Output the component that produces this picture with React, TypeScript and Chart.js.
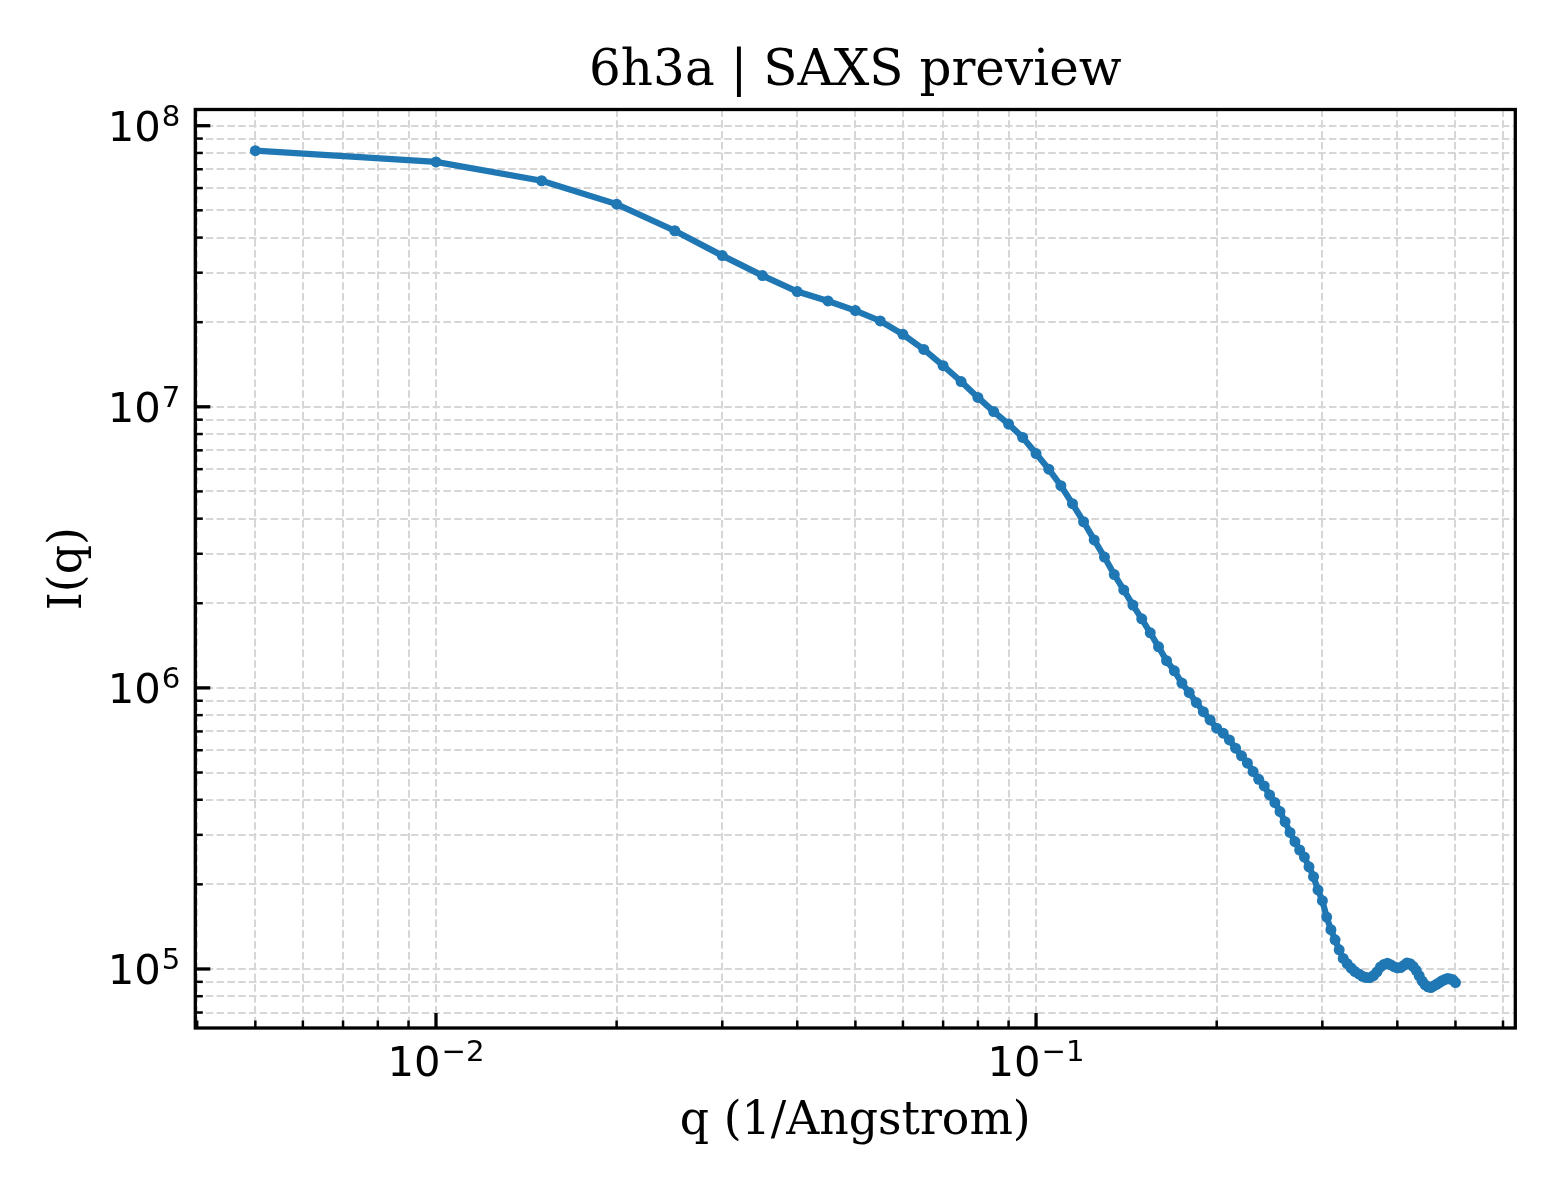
import { useEffect, useRef } from "react";
import { Chart, registerables } from "chart.js";

Chart.register(...registerables);

// q in 1/Angstrom
const qValues = [
  0.005, 0.01, 0.015, 0.02, 0.025, 0.03, 0.035, 0.04, 0.045, 0.05,
  0.055, 0.06, 0.065, 0.07, 0.075, 0.08, 0.085, 0.09, 0.095, 0.1,
  0.105, 0.11, 0.115, 0.12, 0.125, 0.13, 0.135, 0.14, 0.145, 0.15,
  0.155, 0.16, 0.165, 0.17, 0.175, 0.18, 0.185, 0.19, 0.195, 0.2,
  0.205, 0.21, 0.215, 0.22, 0.225, 0.23, 0.235, 0.24, 0.245, 0.25,
  0.255, 0.26, 0.265, 0.27, 0.275, 0.28, 0.285, 0.29, 0.295, 0.3,
  0.305, 0.31, 0.315, 0.32, 0.325, 0.33, 0.335, 0.34, 0.345, 0.35,
  0.355, 0.36, 0.365, 0.37, 0.375, 0.38, 0.385, 0.39, 0.395, 0.4,
  0.405, 0.41, 0.415, 0.42, 0.425, 0.43, 0.435, 0.44, 0.445, 0.45,
  0.455, 0.46, 0.465, 0.47, 0.475, 0.48, 0.485, 0.49, 0.495, 0.5,
];

// I(q)
const intensity = [
  8.15e7, 7.43e7, 6.37e7, 5.26e7, 4.23e7, 3.45e7, 2.93e7, 2.57e7, 2.38e7, 2.2e7,
  2.02e7, 1.81e7, 1.6e7, 1.4e7, 1.23e7, 1.08e7, 9.62e6, 8.68e6, 7.78e6, 6.82e6,
  6.0e6, 5.24e6, 4.52e6, 3.9e6, 3.36e6, 2.92e6, 2.53e6, 2.23e6, 1.97e6, 1.76e6,
  1.57e6, 1.4e6, 1.25e6, 1.15e6, 1.04e6, 9.62e5, 8.87e5, 8.23e5, 7.69e5, 7.19e5,
  6.9e5, 6.53e5, 6.1e5, 5.73e5, 5.4e5, 5.04e5, 4.73e5, 4.48e5, 4.16e5, 3.91e5,
  3.63e5, 3.34e5, 3.06e5, 2.84e5, 2.65e5, 2.5e5, 2.31e5, 2.13e5, 1.91e5, 1.75e5,
  1.53e5, 1.38e5, 1.27e5, 1.17e5, 1.09e5, 1.044e5, 1.008e5, 9.79e4, 9.6e4, 9.42e4,
  9.32e4, 9.31e4, 9.47e4, 9.77e4, 1.017e5, 1.038e5, 1.047e5, 1.035e5, 1.019e5, 1.009e5,
  1.012e5, 1.029e5, 1.05e5, 1.044e5, 1.021e5, 9.89e4, 9.46e4, 9.06e4, 8.78e4, 8.64e4,
  8.59e4, 8.7e4, 8.82e4, 8.95e4, 9.08e4, 9.17e4, 9.25e4, 9.21e4, 9.15e4, 8.95e4,
];

const xMajorTicks = [0.01, 0.1];
const xMajorLabels = ["\u22122", "\u22121"];
const xMinorTicks = [
  0.004, 0.005, 0.006, 0.007, 0.008, 0.009,
  0.02, 0.03, 0.04, 0.05, 0.06, 0.07, 0.08, 0.09,
  0.2, 0.3, 0.4, 0.5, 0.6,
];
const yMajorTicks = [1e5, 1e6, 1e7, 1e8];
const yMajorLabels = ["5", "6", "7", "8"];
const yMinorTicks = [
  7e4, 8e4, 9e4,
  2e5, 3e5, 4e5, 5e5, 6e5, 7e5, 8e5, 9e5,
  2e6, 3e6, 4e6, 5e6, 6e6, 7e6, 8e6, 9e6,
  2e7, 3e7, 4e7, 5e7, 6e7, 7e7, 8e7, 9e7,
];

const LINE_COLOR = "#1f77b4";
const SERIF = "'DejaVu Serif', serif";
const SANS = "'DejaVu Sans', sans-serif";
const BASE_SIZE = 41.7;
const EXP_SIZE = 29.2;

// "10" with a raised exponent, mathtext style
function drawPower(ctx: CanvasRenderingContext2D, exp: string, x: number, baseline: number, align: "right" | "center") {
  ctx.font = `${BASE_SIZE}px ${SANS}`;
  const baseW = ctx.measureText("10").width;
  ctx.font = `${EXP_SIZE}px ${SANS}`;
  const expW = ctx.measureText(exp).width;
  const total = baseW + 1 + expW;
  const left = align === "right" ? x - total : x - total / 2;
  ctx.textAlign = "left";
  ctx.textBaseline = "alphabetic";
  ctx.fillStyle = "#000";
  ctx.font = `${BASE_SIZE}px ${SANS}`;
  ctx.fillText("10", left, baseline);
  ctx.font = `${EXP_SIZE}px ${SANS}`;
  ctx.fillText(exp, left + baseW + 1, baseline - 15.5);
}

const axesDecor = {
  id: "axesDecor",
  afterDraw(chart: Chart) {
    const { ctx, chartArea: a } = chart;
    const xs = chart.scales.x;
    const ys = chart.scales.y;
    ctx.save();
    ctx.strokeStyle = "#000";

    // inward ticks, left and bottom only
    const tick = (x1: number, y1: number, x2: number, y2: number, w: number) => {
      ctx.lineWidth = w;
      ctx.beginPath();
      ctx.moveTo(x1, y1);
      ctx.lineTo(x2, y2);
      ctx.stroke();
    };
    xMinorTicks.forEach((v) => {
      const px = xs.getPixelForValue(v);
      tick(px, a.bottom, px, a.bottom - 7.5, 2.5);
    });
    xMajorTicks.forEach((v) => {
      const px = xs.getPixelForValue(v);
      tick(px, a.bottom, px, a.bottom - 15, 3.3);
    });
    yMinorTicks.forEach((v) => {
      const py = ys.getPixelForValue(v);
      tick(a.left, py, a.left + 7.5, py, 2.5);
    });
    yMajorTicks.forEach((v) => {
      const py = ys.getPixelForValue(v);
      tick(a.left, py, a.left + 15, py, 3.3);
    });

    // frame
    ctx.lineWidth = 3.3;
    ctx.strokeRect(a.left, a.top, a.right - a.left, a.bottom - a.top);

    xMajorTicks.forEach((v, i) => {
      drawPower(ctx, xMajorLabels[i], xs.getPixelForValue(v), a.bottom + 48, "center");
    });
    yMajorTicks.forEach((v, i) => {
      drawPower(ctx, yMajorLabels[i], a.left - 15, ys.getPixelForValue(v) + 15.5, "right");
    });
    ctx.restore();
  },
};

export default function App() {
  const chartRef = useRef<HTMLCanvasElement>(null);
  const chartInstance = useRef<Chart | null>(null);

  useEffect(() => {
    if (!chartRef.current) return;
    if (chartInstance.current) {
      chartInstance.current.destroy();
    }
    const ctx = chartRef.current.getContext("2d");
    if (!ctx) return;

    const gridOpts = {
      color: "#d6d6d6",
      lineWidth: 2,
      drawTicks: false,
    };

    chartInstance.current = new Chart(ctx, {
      type: "line",
      data: {
        datasets: [
          {
            data: qValues.map((q, i) => ({ x: q, y: intensity[i] })),
            borderColor: LINE_COLOR,
            backgroundColor: LINE_COLOR,
            borderWidth: 6.25,
            pointRadius: 5.5,
            pointBorderWidth: 0,
            pointBackgroundColor: LINE_COLOR,
            tension: 0,
          },
        ],
      },
      options: {
        animation: false,
        responsive: true,
        maintainAspectRatio: false,
        layout: { padding: { left: 0, right: 44.7, top: 0, bottom: 0 } },
        plugins: {
          legend: { display: false },
          tooltip: { enabled: false },
          title: {
            display: true,
            fullSize: false,
            text: "6h3a | SAXS preview",
            color: "#000",
            font: { family: SERIF, size: 50, weight: "normal" },
            padding: { top: 42, bottom: 7.5 },
          },
        },
        scales: {
          x: {
            type: "logarithmic",
            position: "bottom",
            min: 0.003971,
            max: 0.629,
            afterBuildTicks: (scale: any) => {
              scale.ticks = [...xMinorTicks, ...xMajorTicks].sort((p, q) => p - q).map((value) => ({ value }));
            },
            afterFit: (scale: any) => {
              scale.height = 172;
            },
            ticks: { display: false, autoSkip: false },
            grid: gridOpts,
            border: { display: false, dash: [7.5, 3.3] },
            title: {
              display: true,
              text: "q (1/Angstrom)",
              color: "#000",
              font: { family: SERIF, size: 45.8, weight: "normal" },
              padding: { top: 0, bottom: 50 },
            },
          },
          y: {
            type: "logarithmic",
            position: "left",
            min: 6.166e4,
            max: 1.142e8,
            afterBuildTicks: (scale: any) => {
              scale.ticks = [...yMinorTicks, ...yMajorTicks].sort((p, q) => p - q).map((value) => ({ value }));
            },
            afterFit: (scale: any) => {
              scale.width = 195.3;
            },
            ticks: { display: false, autoSkip: false },
            grid: gridOpts,
            border: { display: false, dash: [7.5, 3.3] },
            title: {
              display: true,
              text: "I(q)",
              color: "#000",
              font: { family: SERIF, size: 45.8, weight: "normal" },
              padding: { top: 42, bottom: 0 },
            },
          },
        },
      },
      plugins: [axesDecor],
    });

    return () => {
      if (chartInstance.current) {
        chartInstance.current.destroy();
        chartInstance.current = null;
      }
    };
  }, []);

  return (
    <div style={{ position: "absolute", left: 0, top: 0, width: 1560, height: 1200, background: "#fff" }}>
      <canvas ref={chartRef} />
    </div>
  );
}
